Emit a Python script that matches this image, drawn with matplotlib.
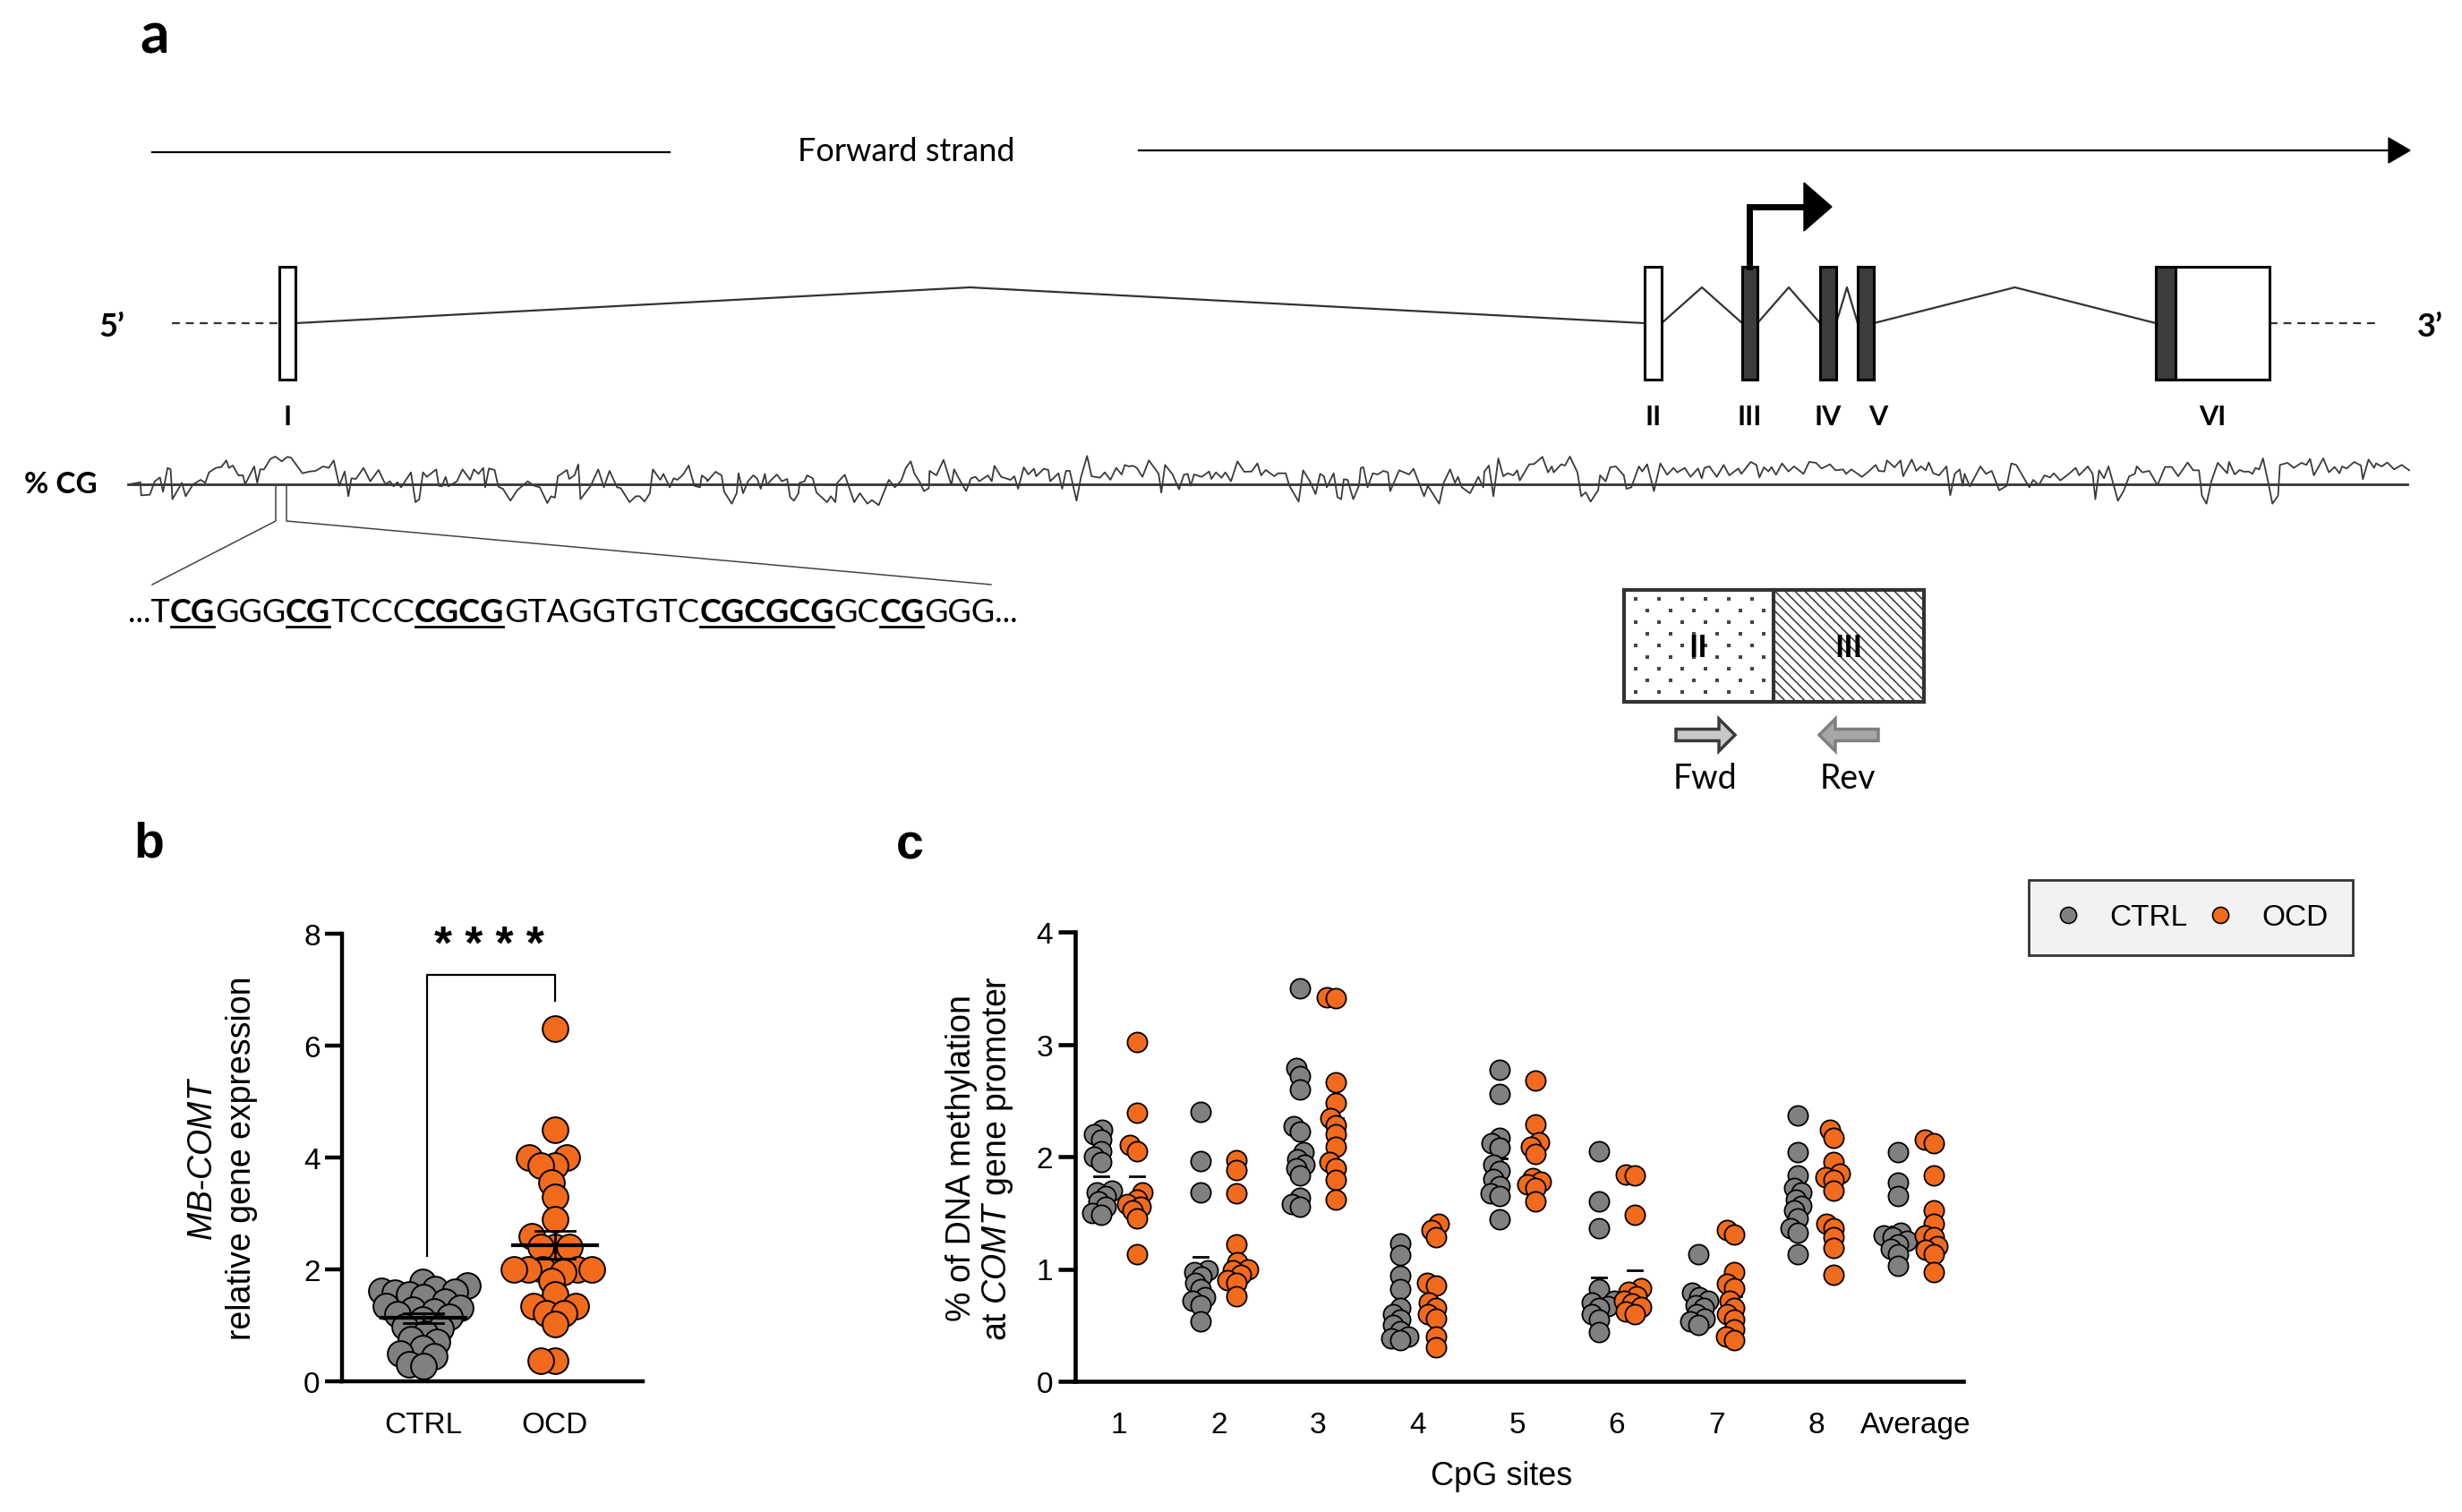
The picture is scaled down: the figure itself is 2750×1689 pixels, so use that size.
import matplotlib

matplotlib.use("Agg")
import matplotlib.pyplot as plt
import numpy as np
from matplotlib.lines import Line2D
from matplotlib.patches import FancyArrow, Polygon, Rectangle

plt.rcParams["font.family"] = ["Liberation Sans", "DejaVu Sans"]
plt.rcParams["mathtext.fontset"] = "custom"
plt.rcParams["mathtext.it"] = "Liberation Sans:italic"
plt.rcParams["mathtext.rm"] = "Liberation Sans"
plt.rcParams["hatch.linewidth"] = 1.1

# ---------------- data ----------------
# panel a: COMT locus on the forward strand (schematic coordinates)
exon_labels = ["I", "II", "III", "IV", "V", "VI"]
exon_start = [312, 1837, 1946, 2033, 2075, 2408]
exon_end = [330, 1856, 1963, 2051, 2093, 2535]
coding_start = [None, None, 1946, 2033, 2075, 2408]
coding_end = [None, None, 1963, 2051, 2093, 2430]
label_shift = [0, 0, 0, 0, 14, 0]

# %CG profile, read in four windows: (position in window, deviation from baseline)
cg_win1 = [(10, 0), (40, 7), (42, -37), (65, -35), (78, 10), (92, 23), (100, -25), (112, 55),
           (120, 50), (125, -50), (150, 5), (160, -40), (180, 0), (200, 15), (212, 5), (222, 40),
           (240, 55), (255, 58), (268, 80), (275, 55), (285, 63), (300, 30), (312, 30), (318, 0),
           (342, 60), (350, 5), (358, 50), (368, 50), (385, 85), (398, 93), (415, 77), (430, 92),
           (440, 89), (470, 37), (490, 43), (505, 45), (525, 60), (540, 55), (553, 80), (568, -5),
           (582, 43), (592, -40), (600, 20), (612, 18), (632, 55), (650, 10), (672, 48), (690, 0),
           (702, 10), (712, -7), (722, 7), (732, -10), (758, 40), (770, -60), (780, -50), (790, 40),
           (800, 25), (825, 50), (832, -5), (840, -7), (850, 25), (857, -7), (880, 10), (895, 50),
           (915, 15), (925, 50), (937, 35), (950, 55), (955, -10), (965, 53), (980, 48), (990, -8),
           (1002, -15), (1022, -55), (1040, -20), (1068, 10), (1085, -5), (1100, -10), (1120, -63),
           (1130, -40), (1140, -45), (1148, 27), (1165, 42), (1172, 48), (1178, 18), (1192, 30),
           (1202, 67), (1208, -50), (1235, -5), (1255, 50), (1270, -10), (1285, 45), (1305, -10),
           (1315, -13), (1338, -60), (1355, -40), (1365, -40), (1378, -58), (1392, -30), (1400, 50),
           (1420, 15), (1428, 35), (1445, -10), (1455, 20), (1465, 15), (1480, 32), (1495, 63),
           (1510, -5), (1525, -10), (1530, 30), (1545, 15)]
cg_win2 = [(0, 10), (22, 42), (38, 30), (45, -25), (65, -65), (78, -30), (83, 37), (95, -30),
           (108, 10), (122, 30), (132, 20), (142, -15), (153, 35), (158, -3), (170, 15), (185, 33),
           (198, 10), (212, 18), (220, -43), (230, -55), (242, -30), (245, 5), (258, 10), (265, 30),
           (280, 20), (290, -28), (318, -60), (328, -40), (340, -60), (345, 5), (365, 32), (390, -60),
           (405, -30), (425, -65), (437, -53), (455, -70), (482, 15), (498, -10), (515, 13), (527, 55),
           (540, 77), (550, 35), (563, 10), (575, -23), (588, -13), (590, 45), (608, 30), (627, 82),
           (648, -3), (655, 50), (672, 10), (687, -23), (700, 20), (712, 25), (722, 10), (745, 30),
           (755, 10), (762, 62), (780, 25), (805, 15), (815, 27), (825, -15), (840, 57), (852, 33),
           (867, 52), (873, 27), (893, 52), (905, 48), (910, 10), (932, 37), (942, -15), (952, 45),
           (962, 45), (980, -55), (992, 25), (1008, 95), (1020, 27), (1042, 22), (1055, 40),
           (1070, 15), (1085, 55), (1100, 33), (1108, 65), (1118, 60), (1130, 62), (1140, 55),
           (1155, 25), (1172, 80), (1188, 53), (1198, 35), (1205, -28), (1215, 65), (1235, 33),
           (1252, -17), (1265, 32), (1275, 35), (1283, -5), (1292, 33), (1312, 25), (1332, 43),
           (1338, 18), (1350, 40), (1365, 22), (1375, 40), (1390, 10), (1407, 77), (1425, 42),
           (1445, 43), (1460, 70), (1470, 30), (1482, 48), (1505, 27), (1515, 37), (1535, 37),
           (1545, -5)]
cg_win3 = [(25, -58), (37, 47), (55, 10), (70, -33), (82, 35), (92, 27), (100, -10), (118, 37),
           (128, -43), (138, -50), (145, 17), (155, 15), (170, -50), (185, -5), (190, 55), (197, 57),
           (208, -10), (222, 37), (235, 33), (250, 45), (262, 40), (268, -23), (292, 47), (318, 33),
           (330, 52), (358, -40), (368, -5), (398, -65), (410, 5), (427, 50), (440, 5), (448, 25),
           (458, -10), (480, -30), (502, 25), (515, -10), (518, 43), (530, 63), (542, -40), (555, 87),
           (568, 27), (580, 37), (595, 30), (605, 47), (612, 13), (637, 67), (650, 68), (672, 92),
           (687, 40), (697, 60), (702, 40), (722, 67), (732, 63), (745, 93), (765, 40), (775, -40),
           (787, -27), (800, -58), (820, -20), (825, 30), (840, 10), (852, 57), (867, 60), (888, 30),
           (895, -15), (908, -10), (928, 60), (937, 43), (950, 67), (968, -23), (985, 70),
           (1003, 32), (1020, 55), (1030, 40), (1050, 55), (1065, 25), (1085, 53), (1095, 20),
           (1102, 55), (1115, 60), (1135, 25), (1153, 65), (1168, 30), (1192, 53), (1200, 35),
           (1225, 75), (1240, 65), (1248, 23), (1260, 57), (1272, 43), (1280, 58), (1292, 32),
           (1308, 70), (1325, 43), (1340, 60), (1365, 35), (1380, 75), (1398, 72), (1413, 53),
           (1435, 67), (1450, 47), (1470, 50), (1478, 35), (1492, 50), (1520, 25), (1535, 40)]
cg_win4 = [(12, 65), (20, 45), (35, 43), (42, 80), (62, 57), (78, 80), (85, 27), (108, 83),
           (120, 45), (132, 60), (145, 47), (153, 73), (165, 37), (180, 30), (200, 60), (210, -37),
           (222, 35), (235, 50), (243, -5), (248, 35), (262, -7), (290, 60), (305, 35), (320, 45),
           (340, -20), (360, -5), (372, 70), (385, 65), (420, -10), (430, 15), (445, -3), (460, 30),
           (475, 23), (485, 37), (502, 13), (525, 35), (543, 55), (552, 30), (575, 60), (588, 35),
           (595, -50), (605, 47), (618, 20), (630, 60), (655, -55), (670, -23), (685, 27), (700, 35),
           (705, 60), (720, 40), (738, 45), (760, -3), (780, 58), (798, 58), (815, 27), (840, 73),
           (855, 47), (870, 47), (878, -38), (890, -65), (903, 10), (920, 72), (945, 37), (950, 75),
           (965, 33), (978, 48), (990, 42), (1002, 43), (1012, 35), (1020, 55), (1030, 50),
           (1040, 87), (1055, 0), (1065, -65), (1080, -38), (1085, 65), (1105, 72), (1122, 55),
           (1142, 72), (1155, 65), (1165, 85), (1175, 30), (1200, 87), (1215, 40), (1230, 58),
           (1243, 37), (1250, 60), (1262, 53), (1282, 75), (1300, 63), (1305, 17), (1320, 83),
           (1335, 55), (1340, 70), (1355, 60), (1370, 73), (1388, 50), (1408, 65), (1428, 47)]
cg_windows = [(140, cg_win1), (790, cg_win2), (1440, cg_win3), (2090, cg_win4)]

seq_parts = [("...T", False), ("CG", True), ("GGG", False), ("CG", True), ("TCCC", False),
             ("CGCG", True), ("GTAGGTGTC", False), ("CGCGCG", True), ("GC", False),
             ("CG", True), ("GGG...", False)]

# panel b: MB-COMT relative expression
ctrl_expr = [1.78, 1.72, 1.65, 1.62, 1.6, 1.58, 1.55, 1.5, 1.42, 1.35, 1.32, 1.28, 1.25,
             1.2, 1.15, 1.1, 0.98, 0.95, 0.85, 0.75, 0.7, 0.6, 0.5, 0.45, 0.3, 0.28]
ocd_expr = [6.3, 4.5, 4.0, 4.0, 3.85, 3.85, 3.55, 3.3, 2.9, 2.6, 2.4, 2.4, 2.4, 2.0, 2.0,
            2.0, 2.0, 2.0, 1.95, 1.8, 1.55, 1.35, 1.35, 1.22, 1.22, 1.02, 0.37, 0.37]

# panel c: % DNA methylation per CpG site
cpg_sites = ["1", "2", "3", "4", "5", "6", "7", "8", "Average"]
ctrl_meth = [
    [2.24, 2.2, 2.15, 2.05, 2.0, 1.95, 1.7, 1.68, 1.65, 1.6, 1.55, 1.5, 1.48],
    [2.4, 1.96, 1.68, 0.99, 0.97, 0.93, 0.88, 0.82, 0.75, 0.72, 0.68, 0.53],
    [3.5, 2.79, 2.72, 2.6, 2.27, 2.22, 2.04, 1.98, 1.93, 1.9, 1.83, 1.63, 1.58, 1.55],
    [1.23, 1.12, 0.94, 0.82, 0.65, 0.6, 0.55, 0.5, 0.45, 0.4, 0.38, 0.37],
    [2.77, 2.56, 2.17, 2.12, 2.08, 1.93, 1.87, 1.8, 1.74, 1.67, 1.65, 1.44],
    [2.05, 1.6, 1.36, 0.82, 0.72, 0.7, 0.67, 0.65, 0.6, 0.55, 0.44],
    [1.13, 0.79, 0.75, 0.72, 0.68, 0.65, 0.6, 0.56, 0.53, 0.5],
    [2.37, 2.04, 1.83, 1.72, 1.68, 1.62, 1.56, 1.52, 1.45, 1.36, 1.32, 1.13],
    [2.04, 1.77, 1.65, 1.32, 1.3, 1.28, 1.25, 1.22, 1.18, 1.13, 1.03],
]
ocd_meth = [
    [3.02, 2.39, 2.1, 2.05, 1.68, 1.62, 1.58, 1.55, 1.52, 1.45, 1.13],
    [1.97, 1.88, 1.67, 1.22, 1.06, 1.0, 0.99, 0.95, 0.9, 0.88, 0.76],
    [3.42, 3.41, 2.66, 2.48, 2.34, 2.28, 2.2, 2.09, 1.95, 1.9, 1.79, 1.62],
    [1.4, 1.35, 1.28, 0.88, 0.85, 0.7, 0.65, 0.6, 0.56, 0.4, 0.3],
    [2.68, 2.29, 2.13, 2.09, 2.02, 1.81, 1.78, 1.75, 1.72, 1.6],
    [1.84, 1.83, 1.48, 0.83, 0.8, 0.76, 0.72, 0.69, 0.66, 0.62, 0.6],
    [1.35, 1.31, 0.97, 0.87, 0.83, 0.72, 0.65, 0.6, 0.55, 0.46, 0.4, 0.37],
    [2.24, 2.17, 1.95, 1.85, 1.82, 1.79, 1.7, 1.4, 1.36, 1.28, 1.19, 0.95],
    [2.15, 2.12, 1.83, 1.52, 1.4, 1.3, 1.28, 1.2, 1.17, 1.13, 0.97],
]

GRAY = "#808080"
ORANGE = "#F26A1B"
W, H = 2750, 1690


def swarm_x(values, center, y_scale, x_scale, sep):
    """Simple beeswarm: x positions (data units) so points sit ~sep pixels apart."""
    ys = np.asarray(values, float) * y_scale
    xs = np.zeros(len(ys))
    placed = []
    for i in np.argsort(ys, kind="stable"):
        y = ys[i]
        cands = [0.0]
        for px, py in placed:
            dy = abs(y - py)
            if dy < sep:
                dx = np.sqrt(sep**2 - dy**2)
                cands += [px - dx, px + dx]
        cands.sort(key=abs)
        for c in cands:
            if all((c - px) ** 2 + (y - py) ** 2 >= sep**2 - 1e-6 for px, py in placed):
                break
        placed.append((c, y))
        xs[i] = center + c / x_scale
    return xs


fig = plt.figure(figsize=(W / 100, H / 100), dpi=100)

# ---------------- panel a (schematic, pixel-like coordinates) ----------------
ax_a = fig.add_axes([0, 0, 1, 1])
ax_a.set_xlim(0, W)
ax_a.set_ylim(H, 0)
ax_a.axis("off")
LATO = ["Lato", "DejaVu Sans"]

ax_a.text(156, 59, "a", fontsize=46, fontweight="bold", family=LATO, va="baseline")
ax_a.text(149, 958, "b", fontsize=40, fontweight="bold", va="baseline")
ax_a.text(1001, 960, "c", fontsize=40, fontweight="bold", va="baseline")

# forward strand
ax_a.plot([170, 748], [171, 171], color="black", lw=1.6)
ax_a.plot([1272, 2672], [169, 169], color="black", lw=1.6)
ax_a.add_patch(Polygon([[2668, 155], [2692, 169], [2668, 183]], closed=True, color="black"))
ax_a.text(1012, 170, "Forward strand", fontsize=26, family=LATO, ha="center", va="center")

# gene model
GENE_Y, EXON_HALF, RISE = 362, 63, 40
ax_a.plot([192, exon_start[0]], [GENE_Y, GENE_Y], color="#333333", lw=1.6, ls=(0, (4, 3)))
ax_a.plot([exon_end[-1], 2658], [GENE_Y, GENE_Y], color="#333333", lw=1.6, ls=(0, (4, 3)))
ax_a.text(125, GENE_Y + 4, "5\u2019", fontsize=26, fontweight="bold", family=LATO,
          ha="center", va="center")
ax_a.text(2714, GENE_Y + 4, "3\u2019", fontsize=26, fontweight="bold", family=LATO,
          ha="center", va="center")
for i in range(len(exon_labels) - 1):
    a, b = exon_end[i], exon_start[i + 1]
    ax_a.plot([a, (a + b) / 2, b], [GENE_Y, GENE_Y - RISE, GENE_Y], color="#333333", lw=1.6)
for i, lab in enumerate(exon_labels):
    s, e = exon_start[i], exon_end[i]
    ax_a.add_patch(Rectangle((s, GENE_Y - EXON_HALF), e - s, 2 * EXON_HALF,
                             facecolor="white", edgecolor="black", lw=2.2, zorder=3))
    if coding_start[i] is not None:
        ax_a.add_patch(Rectangle((coding_start[i], GENE_Y - EXON_HALF),
                                 coding_end[i] - coding_start[i], 2 * EXON_HALF,
                                 facecolor="#3c3c3c", edgecolor="black", lw=2.2, zorder=4))
    ax_a.text((s + e) / 2 + label_shift[i], 466, lab, fontsize=22, fontweight="bold",
              family=LATO, ha="center", va="center")

# transcription start arrow at exon III
tss = (exon_start[2] + exon_end[2]) / 2
ax_a.plot([tss, tss, 2020], [GENE_Y - EXON_HALF, 232, 232], color="black", lw=5,
          solid_joinstyle="miter", zorder=5)
ax_a.add_patch(Polygon([[2015, 205], [2046, 232], [2015, 259]], closed=True, color="black"))

# %CG profile
cg_pos, cg_dev = [], []
for start, pts in cg_windows:
    for px, dev in pts:
        cg_pos.append(start + px / 2.376)
        cg_dev.append(dev / 3.0)
CG_Y = 542
ax_a.plot([143, 2689], [CG_Y, CG_Y], color="#333333", lw=2)
ax_a.plot(cg_pos, CG_Y - np.array(cg_dev), color="#3a3a3a", lw=1.3)
ax_a.text(27, CG_Y, "% CG", fontsize=24, fontweight="bold", family=LATO, va="center")

# zoom lines to the sequence
ax_a.plot([308, 308, 170], [CG_Y, 583, 654], color="#444444", lw=1.1)
ax_a.plot([320, 320, 1107], [CG_Y, 583, 654], color="#444444", lw=1.1)

renderer = fig.canvas.get_renderer()
x_cur = 143
for txt, bold in seq_parts:
    t = ax_a.text(x_cur, 695, txt, fontsize=26, family=LATO,
                  fontweight="bold" if bold else "normal", va="baseline", ha="left")
    w = t.get_window_extent(renderer).width
    if bold:
        ax_a.plot([x_cur + 1, x_cur + w - 1], [701, 701], color="black", lw=2)
    x_cur += w

# amplicon box across exons II-III: stippled exon II half, hatched exon III half
BOX_L, BOX_MID, BOX_R, BOX_T, BOX_B = 1814, 1981, 2149, 660, 785
dot_x, dot_y = [], []
for r, yy in enumerate(np.arange(BOX_T + 10, BOX_B - 4, 13)):
    for xx in np.arange(BOX_L + 13 + 13 * (r % 2), BOX_MID - 6, 26):
        dot_x.append(xx)
        dot_y.append(yy)
ax_a.scatter(dot_x, dot_y, s=5, color="#444444", marker="s", lw=0, zorder=2)
ax_a.add_patch(Rectangle((BOX_MID, BOX_T), BOX_R - BOX_MID, BOX_B - BOX_T, facecolor="white",
                         edgecolor="#333333", lw=0, hatch="\\\\\\"))
ax_a.add_patch(Rectangle((BOX_L, BOX_T), BOX_R - BOX_L, BOX_B - BOX_T, fill=False,
                         edgecolor="#333333", lw=3, zorder=3))
ax_a.plot([BOX_MID, BOX_MID], [BOX_T, BOX_B], color="#333333", lw=3, zorder=3)
ax_a.text(1897, 724, "II", fontsize=25, fontweight="bold", family=LATO, ha="center",
          va="center", zorder=4)
ax_a.text(2065, 724, "III", fontsize=25, fontweight="bold", family=LATO, ha="center",
          va="center", zorder=4)
ax_a.add_patch(FancyArrow(1872, 822, 66, 0, width=13, head_width=36, head_length=18,
                          length_includes_head=True, facecolor="#c8c8c8", edgecolor="#3a3a3a",
                          lw=2.5))
ax_a.add_patch(FancyArrow(2098, 822, -66, 0, width=13, head_width=36, head_length=18,
                          length_includes_head=True, facecolor="#a6a6a6", edgecolor="#7f7f7f",
                          lw=2.5))
ax_a.text(1904, 870, "Fwd", fontsize=27, family=LATO, ha="center", va="center")
ax_a.text(2064, 870, "Rev", fontsize=27, family=LATO, ha="center", va="center")

# ---------------- panel b ----------------
ax_b = fig.add_axes([382 / W, 1 - 1544 / H, 336 / W, 500 / H])
for k, (vals, col) in enumerate(zip([ctrl_expr, ocd_expr], [GRAY, ORANGE])):
    xs = swarm_x(vals, k, y_scale=62.5, x_scale=147, sep=16)
    ax_b.scatter(xs, vals, s=430, c=col, edgecolors="black", linewidths=1.4, zorder=3)
    m = np.mean(vals)
    se = np.std(vals, ddof=1) / np.sqrt(len(vals))
    ax_b.plot([k - 0.32, k + 0.32], [m, m], color="black", lw=3, zorder=4)
    ax_b.plot([k, k], [m - se, m + se], color="black", lw=2, zorder=4)
    for v in (m - se, m + se):
        ax_b.plot([k - 0.15, k + 0.15], [v, v], color="black", lw=2, zorder=4)
ax_b.plot([0.03, 0.03, 1.0, 1.0], [2.24, 7.26, 7.26, 6.8], color="black", lw=1.6)
ax_b.text(0.5, 7.78, "* * * *", fontsize=37, fontweight="bold", ha="center", va="center")
ax_b.set_xlim(-0.62, 1.67)
ax_b.set_ylim(0, 8)
ax_b.set_yticks([0, 2, 4, 6, 8])
ax_b.set_xticks([0, 1])
ax_b.set_xticklabels(["CTRL", "OCD"])
for side in ("top", "right"):
    ax_b.spines[side].set_visible(False)
for side in ("left", "bottom"):
    ax_b.spines[side].set_linewidth(3.2)
ax_b.tick_params(axis="y", length=13.5, width=3.2, labelsize=24, pad=4)
ax_b.tick_params(axis="x", length=0, labelsize=24, pad=24)
ax_b.patch.set_visible(False)
fig.text(249 / W, 1 - 1294 / H, "$\\it{MB}$-$\\it{COMT}$\nrelative gene expression",
         rotation=90, fontsize=27, ha="center", va="center", multialignment="center",
         linespacing=1.25)

# ---------------- panel c ----------------
ax_c = fig.add_axes([1201 / W, 1 - 1544 / H, 992 / W, 502 / H])
site_x = np.arange(1, len(cpg_sites) + 1)
for k in range(len(cpg_sites)):
    for vals, col, off in ((ctrl_meth[k], GRAY, -0.18), (ocd_meth[k], ORANGE, 0.18)):
        c = site_x[k] + off
        xs = swarm_x(vals, c, y_scale=125.5, x_scale=111.25, sep=10)
        m = np.mean(vals)
        ax_c.plot([c - 0.07, c + 0.07], [m, m], color="black", lw=2, zorder=2)
        ax_c.scatter(xs, vals, s=255, c=col, edgecolors="black", linewidths=1.3, zorder=3)
ax_c.set_xlim(0.56, 9.48)
ax_c.set_ylim(0, 4)
ax_c.set_yticks([0, 1, 2, 3, 4])
ax_c.set_xticks(site_x)
ax_c.set_xticklabels(cpg_sites)
for side in ("top", "right"):
    ax_c.spines[side].set_visible(False)
for side in ("left", "bottom"):
    ax_c.spines[side].set_linewidth(3.3)
ax_c.tick_params(axis="y", length=14, width=3.3, labelsize=24, pad=4)
ax_c.tick_params(axis="x", length=0, labelsize=24, pad=24)
ax_c.patch.set_visible(False)
fig.text(1095 / W, 1 - 1294 / H, "% of DNA methylation\nat $\\it{COMT}$ gene promoter",
         rotation=90, fontsize=27, ha="center", va="center", multialignment="center",
         linespacing=1.1)
fig.text(1677 / W, 1 - 1650 / H, "CpG sites", fontsize=26, ha="center", va="center")

handles = [Line2D([], [], marker="o", ls="", markersize=13, markerfacecolor=col,
                  markeredgecolor="black", markeredgewidth=1.2) for col in (GRAY, ORANGE)]
leg = fig.legend(handles, ["CTRL", "OCD"], loc="center",
                 bbox_to_anchor=(2447 / W, 1 - 1026 / H), ncol=2, fontsize=24,
                 frameon=True, fancybox=False, facecolor="#f2f2f2", edgecolor="#333333",
                 framealpha=1, handlelength=1.0, handletextpad=0.9, columnspacing=0.6,
                 borderpad=0.8)
leg.get_frame().set_linewidth(2)

fig.savefig("out.png", dpi=100)
